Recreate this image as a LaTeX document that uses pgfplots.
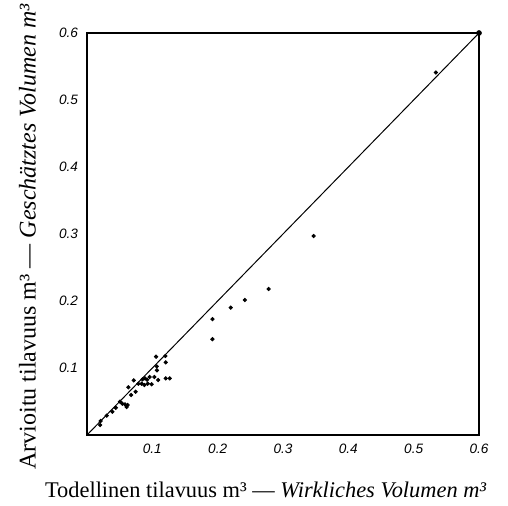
\documentclass[border=0pt]{standalone}
\usepackage{pgfplots}
\pgfplotsset{compat=1.18}
\usepackage{fontspec}
\setmainfont{Liberation Serif}
\newfontfamily\tickfont{Liberation Sans}
\begin{document}
\begin{tikzpicture}
\path[use as bounding box] (-43.5pt,-35pt) rectangle (210.5pt,217.5pt);
\begin{axis}[
  scale only axis,
  width=196pt, height=201pt,
  at={(0,0)}, anchor=south west,
  xmin=0, xmax=0.6, ymin=0, ymax=0.6,
  axis line style={line width=0.8pt},
  major tick length=0pt,
  xtick={0.1,0.2,0.3,0.4,0.5,0.6},
  ytick={0.1,0.2,0.3,0.4,0.5,0.6},
  xticklabels={0.1,0.2,0.3,0.4,0.5,0.6},
  yticklabels={0.1,0.2,0.3,0.4,0.5,0.6},
  ticklabel style={font=\tickfont\itshape\fontsize{6.8}{7}\selectfont},
  xticklabel style={yshift=-1pt},
  yticklabel style={xshift=-1pt},
  xlabel={Todellinen tilavuus m³ — \textit{Wirkliches Volumen m³}},
  ylabel={Arvioitu tilavuus m³ — \textit{Geschätztes Volumen m³}},
  xlabel style={font=\fontsize{11.2}{13}\selectfont, at={(axis description cs:0.456,-0.137)}, anchor=center},
  ylabel style={font=\fontsize{12}{14}\selectfont, at={(axis description cs:-0.152,0.493)}, anchor=center, rotate=0},
  clip=false,
]
\addplot[black, line width=0.5pt] coordinates {(0,0) (0.6,0.6)};
\addplot[only marks, mark=*, mark size=0.85pt, black] coordinates {
(0.1057,0.1169)(0.1199,0.118)(0.1205,0.1085)(0.1067,0.1025)(0.107,0.0965)
(0.0715,0.0816)(0.0633,0.0712)(0.0786,0.0766)(0.085,0.0831)(0.0888,0.0846)
(0.0919,0.0825)(0.096,0.0866)(0.103,0.0866)(0.0837,0.0766)(0.0878,0.0746)
(0.0929,0.0766)(0.099,0.0757)(0.109,0.0821)(0.1205,0.0846)(0.1266,0.0846)
(0.0745,0.0646)(0.0674,0.0597)(0.0505,0.0497)(0.054,0.0467)(0.0582,0.0458)
(0.0623,0.0448)(0.0608,0.0418)(0.044,0.0407)(0.0388,0.0348)(0.0302,0.0288)
(0.021,0.0209)(0.020,0.0149)
(0.192,0.143)(0.192,0.173)(0.220,0.190)(0.2415,0.2015)(0.278,0.218)
(0.347,0.297)(0.534,0.541)
};
\addplot[only marks, mark=*, mark size=1.2pt, black] coordinates {(0.6,0.6)};
\end{axis}
\end{tikzpicture}
\end{document}
